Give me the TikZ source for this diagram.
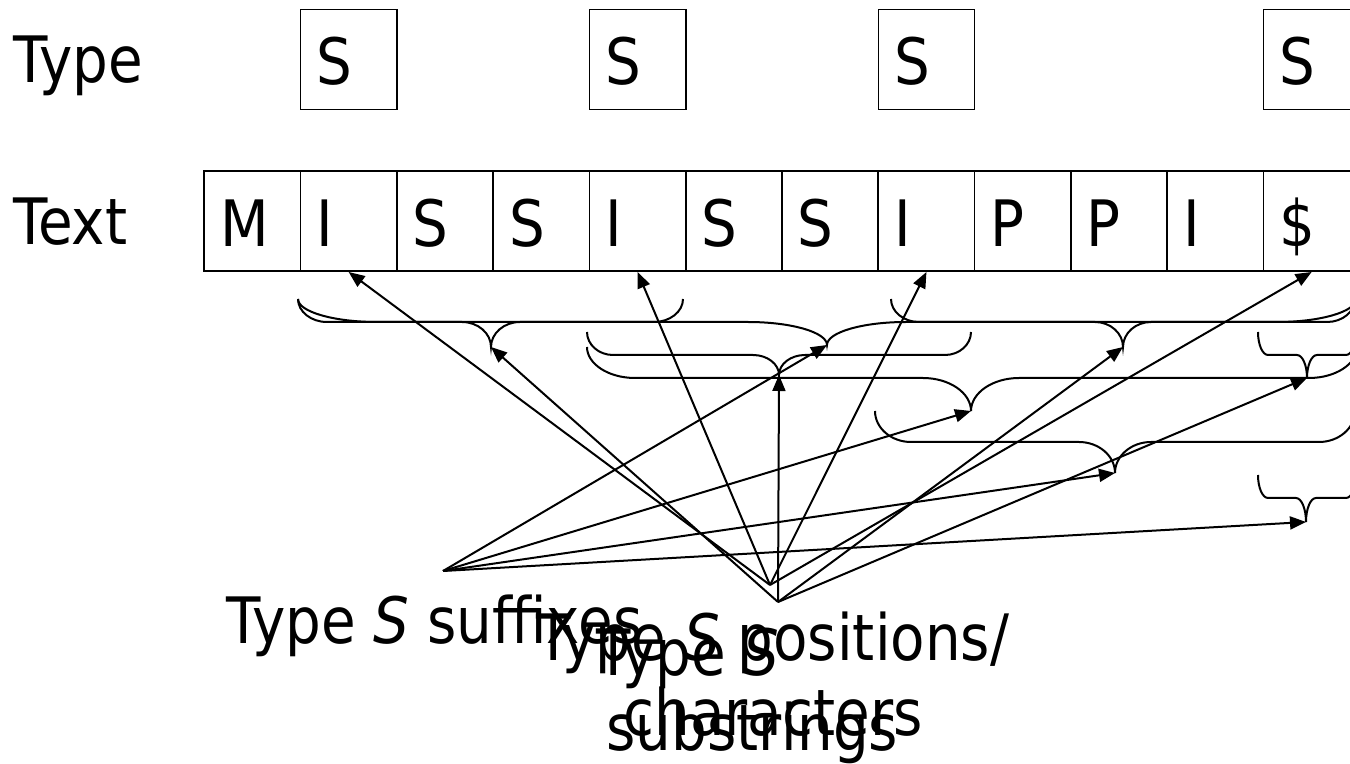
\documentclass[tikz,border=0pt]{standalone}
\usepackage{fontspec}
\setmainfont{DejaVu Sans}[FakeStretch=0.88]
\usetikzlibrary{matrix, positioning, arrows.meta}

\tikzset{
  cell/.style={draw, line width=0.8pt, text width=32.15pt, align=left,
    inner xsep=8pt, inner ysep=0pt, text height=37.5pt, text depth=12.5pt},
  lbl/.style={inner sep=0pt},
  brace line/.style={line width=1pt},
  pointer/.style={line width=1pt, -{Triangle[length=8pt, width=6.5pt]}},
}

% name, left x, tip x, right x, top y, line y, tip y, curl
\newcommand{\hbrace}[8]{%
  \draw[brace line] (#2,#5)
    .. controls (#2,{#5+0.55*(#6-#5)}) and ({#2+0.45*#8},#6) .. ({#2+#8},#6)
    -- ({#3-#8},#6)
    .. controls ({#3-0.45*#8},#6) and (#3,{#6+0.45*(#7-#6)}) .. (#3,#7)
    .. controls (#3,{#6+0.45*(#7-#6)}) and ({#3+0.45*#8},#6) .. ({#3+#8},#6)
    -- ({#4-#8},#6)
    .. controls ({#4-0.45*#8},#6) and (#4,{#5+0.55*(#6-#5)}) .. (#4,#5);
  \coordinate (#1) at (#3,#7);
}

\begin{document}
\begin{tikzpicture}[x=0.5pt, y=-0.5pt, font=\fontsize{32pt}{37.5pt}\selectfont]
\useasboundingbox (0,0) rectangle (1350,764);
\clip (0,0) rectangle (1350,764);

\node (typelbl) [lbl, anchor=base west] at (13,83) {Type};
\node (textlbl) [lbl, anchor=base west] at (13,245) {Text};

\matrix (txt) [
  matrix of nodes,
  column sep=-0.8pt,
  inner sep=0pt,
  nodes={cell},
  anchor=north west
] at (203,170) {
  M & I & S & S & I & S & S & I & P & P & I & \$ \\
};

\node (tyA) [cell, above=30pt of txt-1-2] {S};
\node (tyB) [cell, above=30pt of txt-1-5] {S};
\node (tyC) [cell, above=30pt of txt-1-8] {S};
\node (tyD) [cell, above=30pt of txt-1-12] {S};

% substrings and suffixes
\hbrace{subA}{298}{491}{683}{299}{322}{347}{29}
\hbrace{sufA}{298}{827}{1356}{299}{322}{345}{79}
\hbrace{subC}{891}{1123}{1355}{299}{322}{347}{28}
\hbrace{subB}{587}{779}{971}{332}{355}{375}{26}
\hbrace{subD}{1258}{1307}{1356}{332}{355}{378}{10}
\hbrace{sufB}{587}{971}{1357}{347}{378}{411}{48}
\hbrace{sufC}{875}{1115}{1355}{411}{442}{473}{36}
\hbrace{sufD}{1258}{1306}{1356}{475}{498}{522}{10}

\node (suflbl) [lbl, anchor=base west] at (226,643) {Type \textit{S} suffixes};
\node (poslbl) [lbl, align=center, anchor=north] at (773,611) {Type \textit{S} positions/\\characters};
\node (sublbl) [lbl, align=left, anchor=north west] at (596,628) {Type \textit{S}\\\hspace*{5pt}substrings};

\coordinate (sufsrc) at (443,571);
\coordinate (possrc) at (770,585);
\coordinate (subsrc) at (778,602);

\draw[pointer] (sufsrc) -- (sufA);
\draw[pointer] (sufsrc) -- (sufB);
\draw[pointer] (sufsrc) -- (sufC);
\draw[pointer] (sufsrc) -- (sufD);

\draw[pointer] (subsrc) -- (subA);
\draw[pointer] (subsrc) -- (subB);
\draw[pointer] (subsrc) -- (subC);
\draw[pointer] (subsrc) -- (subD);

\draw[pointer] (possrc) -- (txt-1-2.south);
\draw[pointer] (possrc) -- (txt-1-5.south);
\draw[pointer] (possrc) -- (txt-1-8.south);
\draw[pointer] (possrc) -- (txt-1-12.south);

\end{tikzpicture}
\end{document}
